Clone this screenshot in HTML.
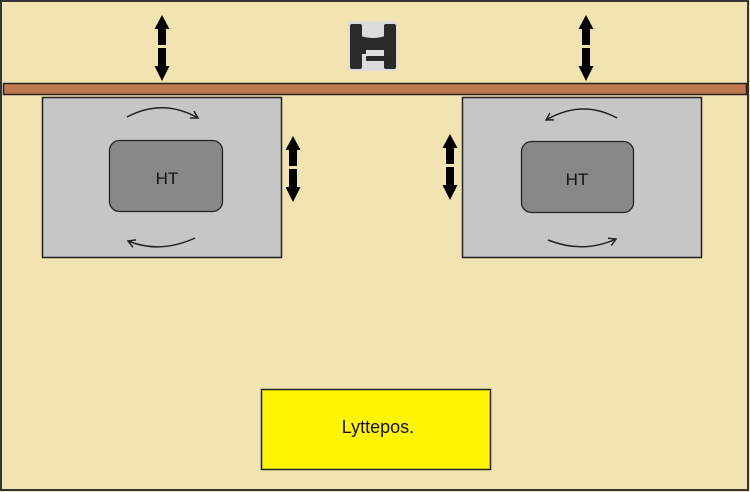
<!DOCTYPE html>
<html><head><meta charset="utf-8"><style>
html,body{margin:0;padding:0;background:#f1e4b0;}
svg{display:block}
</style></head><body>
<svg width="750" height="492" viewBox="0 0 750 492" xmlns="http://www.w3.org/2000/svg">
<defs>
<g id="dbl">
  <polygon points="0,-33 -7.5,-19 -4,-19 -4,-3 4,-3 4,-19 7.5,-19" fill="#000"/>
  <polygon points="0,33 -7.5,18 -4,18 -4,0 4,0 4,18 7.5,18" fill="#000"/>
</g>
<marker id="ah" markerWidth="10" markerHeight="10" refX="8" refY="5" orient="auto" markerUnits="userSpaceOnUse">
  <path d="M1,1 L8,5 L1,9" fill="none" stroke="#222" stroke-width="1.5"/>
</marker>
</defs>
<rect x="0" y="0" width="750" height="492" fill="#f1e4b0"/>
<rect x="1" y="1" width="747" height="489" fill="none" stroke="#333" stroke-width="2"/>
<rect x="3.5" y="83.5" width="743" height="11" fill="#c0794f" stroke="#222" stroke-width="1.5"/>
<!-- logo -->
<rect x="348" y="21" width="49" height="50" rx="4" fill="#dcdcdc"/>
<rect x="350" y="24" width="12" height="45" rx="2" fill="#2a2a2a"/>
<rect x="384" y="24" width="12" height="45" rx="2" fill="#2a2a2a"/>
<path d="M361,36 Q373,40 385,36 V50 H361 Z" fill="#2a2a2a"/>
<rect x="361" y="50" width="5" height="4" fill="#2a2a2a"/>
<rect x="366" y="56" width="19" height="5" rx="1" fill="#2a2a2a"/>
<!-- top arrows -->
<use href="#dbl" x="162" y="48"/>
<use href="#dbl" x="586" y="48"/>
<!-- left box -->
<rect x="42.5" y="97.5" width="239" height="160" fill="#c6c6c6" stroke="#222" stroke-width="1.5"/>
<rect x="109.5" y="140.5" width="113" height="71" rx="10" fill="#888" stroke="#222" stroke-width="1.3"/>
<text x="167" y="184" font-family="Liberation Sans, sans-serif" font-size="17" text-anchor="middle" fill="#111">HT</text>
<path d="M127,117 Q163,98 198,118" fill="none" stroke="#222" stroke-width="1.5" marker-end="url(#ah)"/>
<path d="M195,238 Q160,254 128,241" fill="none" stroke="#222" stroke-width="1.5" marker-end="url(#ah)"/>
<use href="#dbl" x="293" y="169"/>
<!-- right box -->
<rect x="462.5" y="97.5" width="239" height="160" fill="#c6c6c6" stroke="#222" stroke-width="1.5"/>
<rect x="521.5" y="141.5" width="112" height="71" rx="10" fill="#888" stroke="#222" stroke-width="1.3"/>
<text x="577" y="185" font-family="Liberation Sans, sans-serif" font-size="17" text-anchor="middle" fill="#111">HT</text>
<path d="M617,118 Q582,99 546,120" fill="none" stroke="#222" stroke-width="1.5" marker-end="url(#ah)"/>
<path d="M548,240 Q583,254 616,239" fill="none" stroke="#222" stroke-width="1.5" marker-end="url(#ah)"/>
<use href="#dbl" x="450" y="167"/>
<!-- Lyttepos -->
<rect x="261.5" y="389.5" width="229" height="80" fill="#fff500" stroke="#222" stroke-width="1.5"/>
<text x="378" y="433" font-family="Liberation Sans, sans-serif" font-size="18" text-anchor="middle" fill="#111">Lyttepos.</text>
</svg>
</body></html>
